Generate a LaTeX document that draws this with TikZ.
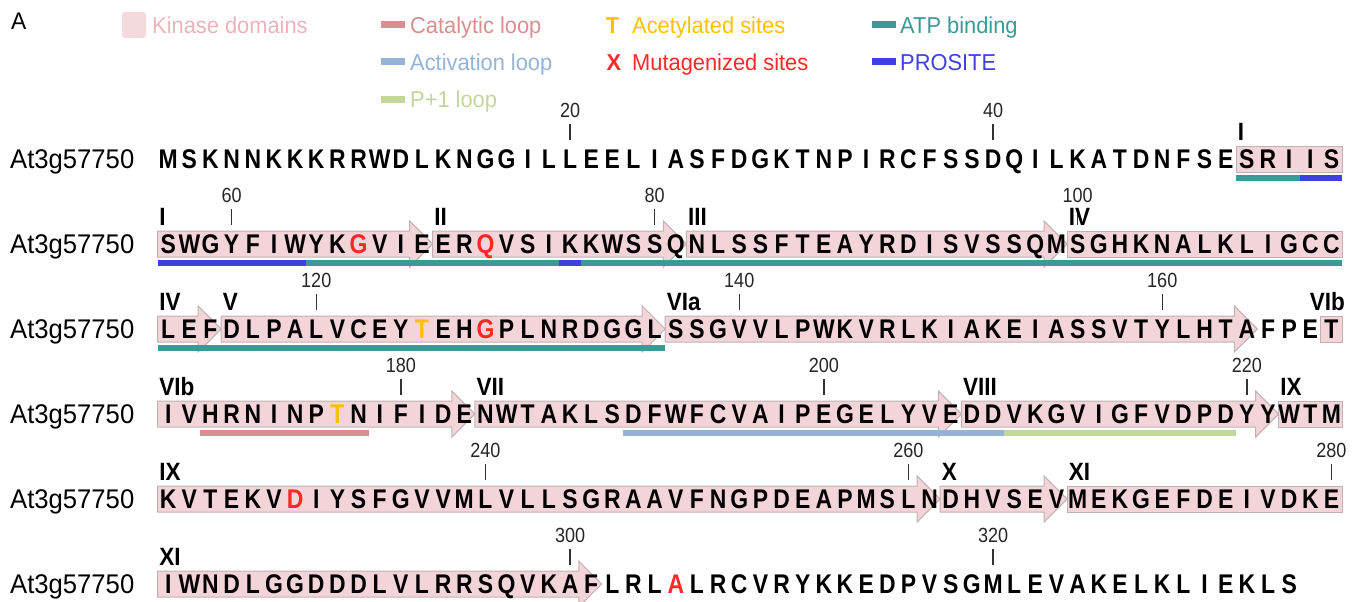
\documentclass[tikz,border=0pt]{standalone}
\usepackage{fontspec}
\setmainfont{Liberation Sans}
\newfontfamily\resfont{Liberation Sans}[FakeStretch=0.85]
\newfontfamily\numfont{Liberation Sans}[FakeStretch=0.88]
\newfontfamily\labfont{Liberation Sans}[FakeStretch=0.95]
\newfontfamily\domfont{Liberation Sans}[FakeStretch=0.9]
\definecolor{kpink}{RGB}{243,212,216}
\definecolor{kborder}{RGB}{192,178,178}
\definecolor{legpink}{RGB}{245,218,221}
\definecolor{legpinktext}{RGB}{233,180,186}
\definecolor{catal}{RGB}{216,143,143}
\definecolor{activ}{RGB}{149,179,215}
\definecolor{pone}{RGB}{195,214,155}
\definecolor{acet}{RGB}{255,192,0}
\definecolor{mutred}{RGB}{255,40,40}
\definecolor{atp}{RGB}{58,154,150}
\definecolor{prosite}{RGB}{64,64,224}
\def\rowA{M,S,K,N,N,K,K,K,R,R,W,D,L,K,N,G,G,I,L,L,E,E,L,I,A,S,F,D,G,K,T,N,P,I,R,C,F,S,S,D,Q,I,L,K,A,T,D,N,F,S,E,S,R,I,I,S}
\def\rowB{S,W,G,Y,F,I,W,Y,K,G,V,I,E,E,R,Q,V,S,I,K,K,W,S,S,Q,N,L,S,S,F,T,E,A,Y,R,D,I,S,V,S,S,Q,M,S,G,H,K,N,A,L,K,L,I,G,C,C}
\def\rowC{L,E,F,D,L,P,A,L,V,C,E,Y,T,E,H,G,P,L,N,R,D,G,G,L,S,S,G,V,V,L,P,W,K,V,R,L,K,I,A,K,E,I,A,S,S,V,T,Y,L,H,T,A,F,P,E,T}
\def\rowD{I,V,H,R,N,I,N,P,T,N,I,F,I,D,E,N,W,T,A,K,L,S,D,F,W,F,C,V,A,I,P,E,G,E,L,Y,V,E,D,D,V,K,G,V,I,G,F,V,D,P,D,Y,Y,W,T,M}
\def\rowE{K,V,T,E,K,V,D,I,Y,S,F,G,V,V,M,L,V,L,L,S,G,R,A,A,V,F,N,G,P,D,E,A,P,M,S,L,N,D,H,V,S,E,V,M,E,K,G,E,F,D,E,I,V,D,K,E}
\def\rowF{I,W,N,D,L,G,G,D,D,D,L,V,L,R,R,S,Q,V,K,A,F,L,R,L,A,L,R,C,V,R,Y,K,K,E,D,P,V,S,G,M,L,E,V,A,K,E,L,K,L,I,E,K,L,S}
\expandafter\def\csname hl2-10\endcsname{mutred}
\expandafter\def\csname hl2-16\endcsname{mutred}
\expandafter\def\csname hl3-13\endcsname{acet}
\expandafter\def\csname hl3-16\endcsname{mutred}
\expandafter\def\csname hl4-9\endcsname{acet}
\expandafter\def\csname hl5-7\endcsname{mutred}
\expandafter\def\csname hl6-25\endcsname{mutred}
\tikzset{
  dombox/.style={fill=kpink, draw=kborder, line width=1pt, line join=miter},
  res/.style={font={\resfont\bfseries\fontsize{27}{30}\selectfont}, anchor=base, inner sep=0pt},
  rowlab/.style={font={\labfont\fontsize{27}{30}\selectfont}, anchor=base west, inner sep=0pt},
  numlab/.style={font={\numfont\fontsize{20.5}{22}\selectfont}, anchor=base, inner sep=0pt, text=black!85},
  domlab/.style={font={\domfont\bfseries\fontsize{25}{27}\selectfont}, anchor=base west, inner sep=0pt},
  tickline/.style={line width=1.4pt, black!80},
  legtext/.style={font={\labfont\fontsize{23}{25}\selectfont}, anchor=base west, inner sep=0pt},
  legsym/.style={font={\labfont\bfseries\fontsize{23}{25}\selectfont}, anchor=base, inner sep=0pt}
}
\newcommand\kdom[4]{%
  \pgfmathsetmacro\xa{168.2+(#2-1.5)*21.15}%
  \pgfmathsetmacro\xb{168.2+(#3-0.5)*21.15}%
  \pgfmathsetmacro\xh{\xb-23}%
  \pgfmathsetmacro\yc{159+(#1-1)*85}%
  \ifnum#4=1
    \draw[dombox] (\xa,\yc-13) -- (\xh,\yc-13) -- (\xh,\yc-23) -- (\xb,\yc) -- (\xh,\yc+23) -- (\xh,\yc+13) -- (\xa,\yc+13) -- cycle;
  \else
    \draw[dombox] (\xa,\yc-13) rectangle (\xb,\yc+13);
  \fi}
\newcommand\ubar[4]{%
  \pgfmathsetmacro\xa{168.2+(#2-1.5)*21.15}%
  \pgfmathsetmacro\xb{168.2+(#3-0.5)*21.15}%
  \pgfmathsetmacro\yc{159+(#1-1)*85}%
  \fill[#4] (\xa,\yc+15.5) rectangle (\xb,\yc+22);}
\newcommand\tickmark[3]{%
  \pgfmathsetmacro\xa{168.2+(#2-1)*21.15}%
  \pgfmathsetmacro\yc{159+(#1-1)*85}%
  \node[numlab] (n#3) at (\xa,\yc-42) {#3};
  \coordinate (tka#3) at (\xa,\yc-35);
  \coordinate (tkb#3) at (\xa,\yc-19);
  \draw[tickline] (tka#3) -- (tkb#3);}
\newcommand\dlab[3]{%
  \pgfmathsetmacro\xa{168.2+(#2-1.5)*21.15+1.5}%
  \pgfmathsetmacro\yc{159+(#1-1)*85}%
  \node[domlab] (d#1-#2) at (\xa,\yc-19) {#3};}
\begin{document}
\begin{tikzpicture}[x=1pt,y=-1pt]
\useasboundingbox (0,0) rectangle (1360,602);
% legend
\node[font={\labfont\fontsize{24}{26}\selectfont}, anchor=base west, inner sep=0pt] (panelA) at (11,29.5) {A};
\fill[legpink, rounded corners=3pt] (122,12) rectangle (146,38);
\node[legtext, text=legpinktext] (lkin) at (152,33.2) {Kinase domains};
\fill[catal] (381,21.5) rectangle (405,28.5);
\node[legtext, text=catal] (lcat) at (410,33.2) {Catalytic loop};
\fill[activ] (381,58.5) rectangle (405,65.5);
\node[legtext, text=activ] (lact) at (410,70.2) {Activation loop};
\fill[pone] (381,95.5) rectangle (405,102.5);
\node[legtext, text=pone] (lpo) at (410,107.2) {P+1 loop};
\node[legsym, text=acet] (lT) at (612.5,33.2) {T};
\node[legtext, text=acet] (lacet) at (632,33.2) {Acetylated sites};
\node[legsym, text=mutred] (lX) at (614,70.2) {X};
\node[legtext, text=mutred] (lmut) at (632,70.2) {Mutagenized sites};
\fill[atp] (872,21.5) rectangle (896,28.5);
\node[legtext, text=atp] (latp) at (900,33.2) {ATP binding};
\fill[prosite] (872,58.5) rectangle (896,65.5);
\node[legtext, text=prosite] (lpro) at (900,70.2) {PROSITE};
% kinase domain boxes
\kdom{1}{52}{56}{0}
\kdom{2}{1}{13}{1}\kdom{2}{14}{25}{1}\kdom{2}{26}{43}{1}\kdom{2}{44}{56}{0}
\kdom{3}{1}{3}{1}\kdom{3}{4}{24}{1}\kdom{3}{25}{52}{1}\kdom{3}{56}{56}{0}
\kdom{4}{1}{15}{1}\kdom{4}{16}{38}{1}\kdom{4}{39}{53}{1}\kdom{4}{54}{56}{0}
\kdom{5}{1}{37}{1}\kdom{5}{38}{43}{1}\kdom{5}{44}{56}{0}
\kdom{6}{1}{21}{1}
% feature bars
\ubar{1}{52}{54}{atp}\ubar{1}{55}{56}{prosite}
\ubar{2}{1}{7}{prosite}\ubar{2}{8}{19}{atp}\ubar{2}{20}{20}{prosite}\ubar{2}{21}{56}{atp}
\ubar{3}{1}{24}{atp}
\ubar{4}{3}{10}{catal}\ubar{4}{23}{40}{activ}\ubar{4}{41}{51}{pone}
% ticks
\tickmark{1}{20}{20}\tickmark{1}{40}{40}
\tickmark{2}{4}{60}\tickmark{2}{24}{80}\tickmark{2}{44}{100}
\tickmark{3}{8}{120}\tickmark{3}{28}{140}\tickmark{3}{48}{160}
\tickmark{4}{12}{180}\tickmark{4}{32}{200}\tickmark{4}{52}{220}
\tickmark{5}{16}{240}\tickmark{5}{36}{260}\tickmark{5}{56}{280}
\tickmark{6}{20}{300}\tickmark{6}{40}{320}
% subdomain labels
\dlab{1}{52}{I}
\dlab{2}{1}{I}\dlab{2}{14}{II}\dlab{2}{26}{III}\dlab{2}{44}{IV}
\dlab{3}{1}{IV}\dlab{3}{4}{V}\dlab{3}{25}{VIa}
\node[domlab, anchor=base east] (d3-56) at (1345,310) {VIb};
\dlab{4}{1}{VIb}\dlab{4}{16}{VII}\dlab{4}{39}{VIII}\dlab{4}{54}{IX}
\dlab{5}{1}{IX}\dlab{5}{38}{X}\dlab{5}{44}{XI}
\dlab{6}{1}{XI}
% sequences
\foreach \row/\seq in {1/\rowA,2/\rowB,3/\rowC,4/\rowD,5/\rowE,6/\rowF}{
  \pgfmathsetmacro\yc{159+(\row-1)*85}
  \edef\seqx{\seq}
  \node[rowlab] (lab\row) at (10,\yc+9.7) {At3g57750};
  \foreach \c [count=\i] in \seqx {
    \ifcsname hl\row-\i\endcsname \edef\col{\csname hl\row-\i\endcsname}\else\def\col{black}\fi
    \node[res, text=\col] (r\row-\i) at ({168.2+(\i-1)*21.15},\yc+9.7) {\c};
  }
}
\end{tikzpicture}
\end{document}
